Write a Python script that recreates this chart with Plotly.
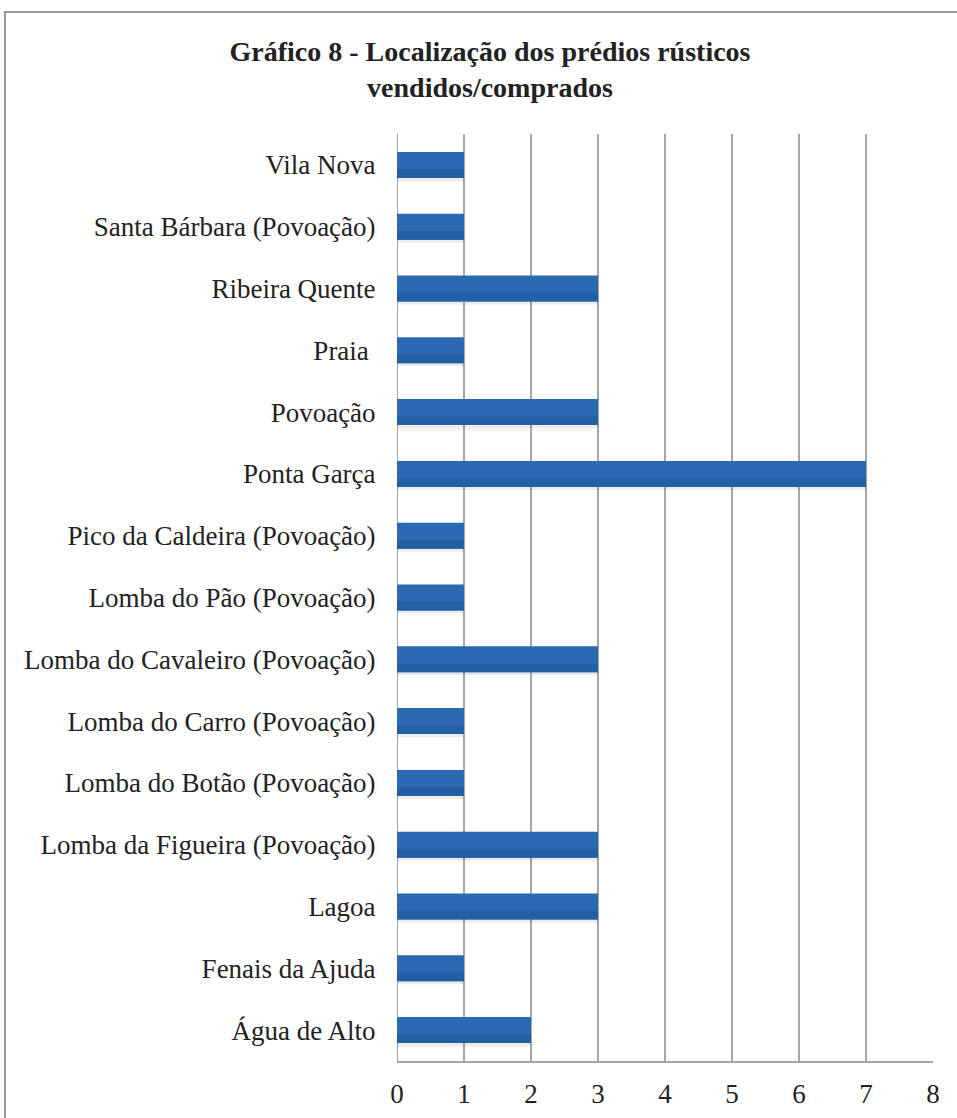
import plotly.graph_objects as go

categories = [
    "Água de Alto",
    "Fenais da Ajuda",
    "Lagoa",
    "Lomba da Figueira (Povoação)",
    "Lomba do Botão (Povoação)",
    "Lomba do Carro (Povoação)",
    "Lomba do Cavaleiro (Povoação)",
    "Lomba do Pão (Povoação)",
    "Pico da Caldeira (Povoação)",
    "Ponta Garça",
    "Povoação",
    "Praia ",
    "Ribeira Quente",
    "Santa Bárbara (Povoação)",
    "Vila Nova",
]
values = [2, 1, 3, 3, 1, 1, 3, 1, 1, 7, 3, 1, 3, 1, 1]
x_ticks = [0, 1, 2, 3, 4, 5, 6, 7, 8]

W, H = 957, 1118
ml, mr, mt, mb = 397, 24, 134, 57
BW = 0.42

fig = go.Figure()
# soft shadow below each bar
fig.add_trace(go.Bar(
    y=categories, x=values, orientation="h",
    marker=dict(color="rgba(0,0,0,0.08)", line=dict(width=0)),
    width=0.05, offset=-BW / 2 - 0.05, hoverinfo="skip",
))
# main bar
fig.add_trace(go.Bar(
    y=categories, x=values, orientation="h",
    marker=dict(color="#2b69b2", line=dict(width=0)),
    width=BW, offset=-BW / 2,
))
# slightly darker lower part (gradient imitation)
fig.add_trace(go.Bar(
    y=categories, x=values, orientation="h",
    marker=dict(color="#235fa3", line=dict(width=0)),
    width=0.14, offset=-BW / 2, hoverinfo="skip",
))

fig.update_layout(
    width=W, height=H,
    margin=dict(l=ml, r=mr, t=mt, b=mb, autoexpand=False),
    paper_bgcolor="white", plot_bgcolor="white",
    showlegend=False,
    barmode="overlay",
    font=dict(family="Liberation Serif", size=27, color="#222222"),
    title=dict(
        text="<b>Gráfico 8 - Localização dos prédios rústicos<br>vendidos/comprados</b>",
        x=490 / W, xanchor="center", xref="container",
        y=1 - 61 / H, yanchor="middle", yref="container",
        font=dict(family="Liberation Serif", size=28, color="#222222"),
    ),
    xaxis=dict(
        range=[0, 8], tickvals=x_ticks, ticktext=[str(t) for t in x_ticks],
        showgrid=True, gridcolor="#a6a6a6", gridwidth=1.6,
        zeroline=False, showline=True, linecolor="#a6a6a6", linewidth=2,
        ticks="outside", ticklen=8, tickcolor="rgba(0,0,0,0)",
        tickfont=dict(size=27), fixedrange=True, automargin=False,
    ),
    yaxis=dict(
        categoryorder="array", categoryarray=categories,
        showgrid=False, zeroline=False, showline=False,
        ticks="outside", ticklen=15, tickcolor="rgba(0,0,0,0)",
        tickfont=dict(size=27), fixedrange=True, automargin=False,
    ),
)

# left axis line (x = 0)
fig.add_shape(type="line", xref="x", yref="paper", x0=0, x1=0, y0=0, y1=1,
              line=dict(color="#a6a6a6", width=2), layer="below")

# chart border
pw, ph = W - ml - mr, H - mt - mb
fig.add_shape(type="rect", xref="paper", yref="paper",
              x0=(5 - ml) / pw, x1=(990 - ml) / pw,
              y0=(H - mb - 1140) / ph, y1=(H - mb - 12) / ph,
              line=dict(color="#999999", width=2), fillcolor="rgba(0,0,0,0)",
              layer="below")

fig.write_html(
    "out.html",
    config={"displayModeBar": False},
    post_script="document.body.style.margin='0';document.body.style.overflow='hidden';",
)
